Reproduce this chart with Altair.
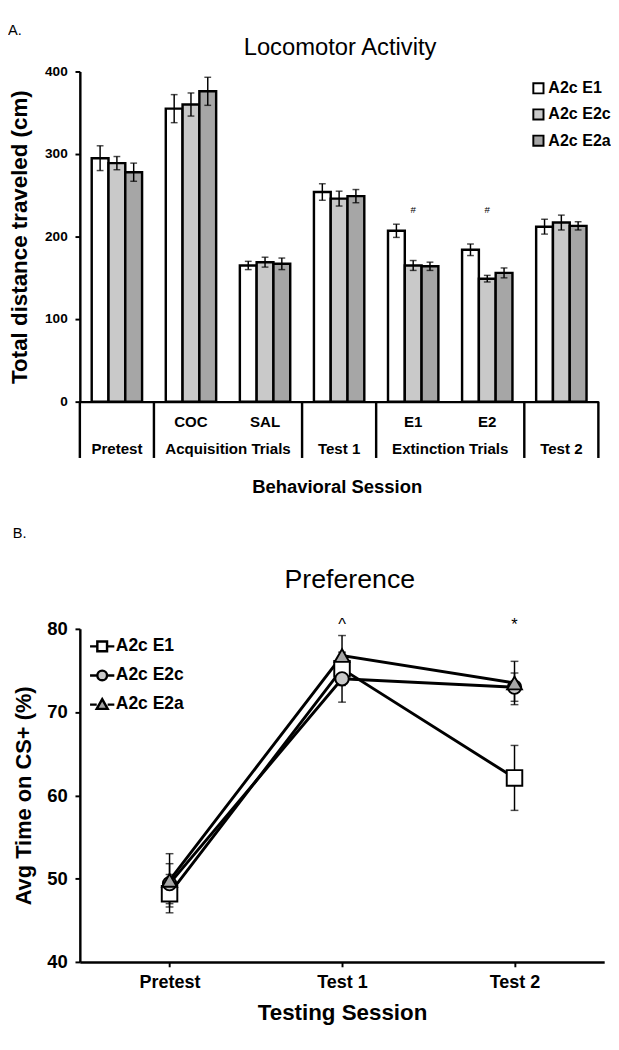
import altair as alt
import pandas as pd

FONT = "Liberation Sans"

# ---------------- Panel A data ----------------
sessions_a = ["Pretest", "COC", "SAL", "Test 1", "E1", "E2", "Test 2"]
groups_a = ["Pretest", "Acquisition Trials", "Test 1", "Extinction Trials", "Test 2"]
group_members = [["Pretest"], ["COC", "SAL"], ["Test 1"], ["E1", "E2"], ["Test 2"]]
sub_labels = ["COC", "SAL", "E1", "E2"]
series = ["A2c E1", "A2c E2c", "A2c E2a"]
e1_dist = [295, 355, 165, 254, 207, 184, 212]
e1_dist_sem = [15, 17, 5, 10, 8, 7, 9]
e2c_dist = [289, 360, 169, 246, 165, 149, 217]
e2c_dist_sem = [8, 14, 6, 9, 6, 4, 9]
e2a_dist = [278, 376, 167, 249, 164, 156, 213]
e2a_dist_sem = [11, 17, 7, 8, 5, 6, 5]
hash_sessions = ["E1", "E2"]
hash_level = 232

# ---------------- Panel B data ----------------
sessions_b = ["Pretest", "Test 1", "Test 2"]
e1_pref = [48.2, 75.2, 62.1]
e1_pref_sem = [2.3, 2.0, 3.9]
e2c_pref = [49.4, 74.0, 73.0]
e2c_pref_sem = [2.4, 2.8, 1.7]
e2a_pref = [49.8, 76.8, 73.5]
e2a_pref_sem = [3.2, 2.4, 2.6]
sig_sessions = ["Test 1", "Test 2"]
sig_marks = ["^", "*"]
sig_level = 80.4

fills = ["#ffffff", "#c9c9c9", "#a6a6a6"]
outline = ["#000000", "#000000", "#000000"]

# ---------------- tables ----------------
rows = []
for s, means, sems in zip(series, [e1_dist, e2c_dist, e2a_dist],
                          [e1_dist_sem, e2c_dist_sem, e2a_dist_sem]):
    for c, m, e in zip(sessions_a, means, sems):
        rows.append({"session": c, "series": s, "value": m, "lo": m - e, "hi": m + e})
dfA = pd.DataFrame(rows)

bounds = [0]
centers = []
for mem in group_members:
    start = bounds[-1]
    centers.append(start + len(mem) / 2)
    bounds.append(start + len(mem))
df_bounds = pd.DataFrame({"pos": bounds})
df_groups = pd.DataFrame({"pos": centers, "label": groups_a})
df_sub = pd.DataFrame({"session": sub_labels})
df_hash = pd.DataFrame({"session": hash_sessions,
                        "level": [hash_level] * len(hash_sessions),
                        "t": ["#"] * len(hash_sessions)})

rowsB = []
for s, means, sems in zip(series, [e1_pref, e2c_pref, e2a_pref],
                          [e1_pref_sem, e2c_pref_sem, e2a_pref_sem]):
    for c, m, e in zip(sessions_b, means, sems):
        rowsB.append({"session": c, "series": s, "mean": m, "lo": m - e, "hi": m + e})
dfB = pd.DataFrame(rowsB)
df_sig = pd.DataFrame({"session": sig_sessions, "level": [sig_level] * 2, "t": sig_marks})


def label(text, x, y, size, weight="normal", align="center"):
    return alt.Chart(pd.DataFrame({"t": [text]})).mark_text(
        font=FONT, fontSize=size, fontWeight=weight, align=align,
        baseline="middle", color="black").encode(
        x=alt.value(x), y=alt.value(y), text="t:N")


# ---------------- Panel A ----------------
WA, HA = 534, 340
xband = alt.X("session:N", sort=sessions_a,
              scale=alt.Scale(domain=sessions_a, paddingInner=0.32, paddingOuter=0.16),
              axis=None)
xoff = alt.XOffset("series:N", sort=series,
                   scale=alt.Scale(domain=series, paddingInner=0, paddingOuter=0))
yscaleA = alt.Scale(domain=[0, 400], nice=False, zero=True)
ytitleA = "Total distance traveled (cm)"
yaxisA = alt.Axis(values=[0, 100, 200, 300, 400], grid=False, domainColor="black",
                  domainWidth=2.5, tickColor="black", tickWidth=2, tickSize=5,
                  labelFont=FONT, labelFontSize=14, labelFontWeight="bold",
                  labelColor="black", labelPadding=8, titleFont=FONT, titleFontSize=23,
                  titleFontWeight="bold", titleColor="black", titleX=-62,
                  titleBaseline="middle")

legendA = alt.Legend(title=None, orient="none", legendX=464, legendY=9,
                     symbolType="square", symbolSize=110, symbolStrokeColor="black",
                     symbolStrokeWidth=2, symbolOpacity=1, labelFont=FONT,
                     labelFontSize=16.5, labelFontWeight="bold", labelColor="black",
                     rowPadding=8, labelOffset=2, padding=0)

baseA = alt.Chart(dfA)
bars = baseA.mark_bar(stroke="black", strokeWidth=2.5).encode(
    x=xband, xOffset=xoff,
    y=alt.Y("value:Q", scale=yscaleA, axis=yaxisA, title=ytitleA),
    fill=alt.Fill("series:N", scale=alt.Scale(domain=series, range=fills), legend=legendA),
)
err_rule = baseA.mark_rule(color="black", strokeWidth=1.5).encode(
    x=xband, xOffset=xoff,
    y=alt.Y("lo:Q", scale=yscaleA, axis=yaxisA, title=ytitleA), y2="hi:Q")
err_caps = baseA.transform_fold(["lo", "hi"], as_=["end", "ev"]).mark_tick(
    color="black", thickness=1.5, size=7).encode(
    x=xband, xOffset=xoff,
    y=alt.Y("ev:Q", scale=yscaleA, axis=yaxisA, title=ytitleA))
hash_text = alt.Chart(df_hash).mark_text(font=FONT, fontSize=10, color="black").encode(
    x=xband, y=alt.Y("level:Q", scale=yscaleA, axis=yaxisA, title=ytitleA), text="t:N")
sub_text = alt.Chart(df_sub).mark_text(font=FONT, fontSize=15.5, fontWeight="bold",
                                       color="black", baseline="middle").encode(
    x=xband, y=alt.value(HA + 21), text="session:N")

xq_scale = alt.Scale(domain=[0, len(sessions_a)], nice=False, zero=False)
separators = alt.Chart(df_bounds).mark_rule(color="black", strokeWidth=2.5).encode(
    x=alt.X("pos:Q", scale=xq_scale,
            axis=alt.Axis(labels=False, ticks=False, grid=False, domainColor="black",
                          domainWidth=2.5, title=None)),
    y=alt.value(HA), y2=alt.value(HA + 58))
group_text = alt.Chart(df_groups).mark_text(font=FONT, fontSize=15.5, fontWeight="bold",
                                            color="black", baseline="middle").encode(
    x=alt.X("pos:Q", scale=xq_scale, axis=None), y=alt.value(HA + 49), text="label:N")

panelA = alt.layer(
    bars, err_rule, err_caps, hash_text, sub_text, separators, group_text,
    label("A.", -74, -43, 15, align="left"),
    label("Locomotor Activity", WA / 2 + 1, -24, 24.5),
    label("Behavioral Session", WA / 2 - 2, HA + 88, 19, weight="bold"),
).resolve_scale(x="independent").properties(width=WA, height=HA)

# ---------------- Panel B ----------------
WB, HB = 540, 343
xB = alt.X("session:N", sort=sessions_b,
           scale=alt.Scale(type="point", domain=sessions_b, padding=0.52),
           axis=alt.Axis(title="Testing Session", labelAngle=0, domainColor="black",
                         domainWidth=2.5, tickColor="black", tickWidth=2, tickSize=5,
                         labelFont=FONT, labelFontSize=18.5, labelFontWeight="bold",
                         labelColor="black", labelPadding=6, titleFont=FONT,
                         titleFontSize=23, titleFontWeight="bold", titleColor="black",
                         titlePadding=12))
yscaleB = alt.Scale(domain=[40, 80], nice=False, zero=False)
ytitleB = "Avg Time on CS+ (%)"
yaxisB = alt.Axis(values=[40, 50, 60, 70, 80], grid=False, domainColor="black",
                  domainWidth=2.5, tickColor="black", tickWidth=2, tickSize=5,
                  labelFont=FONT, labelFontSize=19, labelFontWeight="bold",
                  labelColor="black", labelPadding=8, titleFont=FONT, titleFontSize=22.5,
                  titleFontWeight="bold", titleColor="black", titleX=-58,
                  titleBaseline="middle")

baseB = alt.Chart(dfB)
errB = baseB.mark_rule(color="black", strokeWidth=1.5).encode(
    x=xB, y=alt.Y("lo:Q", scale=yscaleB, axis=yaxisB, title=ytitleB), y2="hi:Q")
capsB = baseB.transform_fold(["lo", "hi"], as_=["end", "ev"]).mark_tick(
    color="black", thickness=1.5, size=8).encode(
    x=xB, y=alt.Y("ev:Q", scale=yscaleB, axis=yaxisB, title=ytitleB))
linesB = baseB.mark_line(color="black", strokeWidth=3).encode(
    x=xB, y=alt.Y("mean:Q", scale=yscaleB, axis=yaxisB, title=ytitleB),
    detail="series:N")
shapes = ["square", "circle", "triangle-up"]
sizes = [256, 190, 230]
pts = []
for s, shp, sz, f in zip(series, shapes, sizes, fills):
    pts.append(baseB.transform_filter(alt.datum.series == s).mark_point(
        shape=shp, size=sz, filled=True, fill=f, stroke="black", strokeWidth=2,
        opacity=1).encode(
        x=xB, y=alt.Y("mean:Q", scale=yscaleB, axis=yaxisB, title=ytitleB)))
sigB = alt.Chart(df_sig).mark_text(font=FONT, fontSize=17, color="black").encode(
    x=xB, y=alt.Y("level:Q", scale=yscaleB, axis=yaxisB, title=ytitleB), text="t:N")

leg_paths = [
    "M-1,0H-0.4M0.4,0H1M-0.4,-0.4H0.4V0.4H-0.4Z",
    "M-1,0H-0.4M0.4,0H1M-0.4,0A0.4,0.4 0 1,0 0.4,0A0.4,0.4 0 1,0 -0.4,0Z",
    "M-1,0H-0.45M0.45,0H1M0,-0.45L0.45,0.35H-0.45Z",
]
legendB = alt.Legend(title=None, orient="none", legendX=9, legendY=4,
                     symbolSize=625, symbolStrokeWidth=2.5,
                     symbolOpacity=1, labelFont=FONT, labelFontSize=18,
                     labelFontWeight="bold", labelColor="black", rowPadding=6,
                     labelOffset=0, padding=0)
legB = baseB.transform_filter("false").mark_point(
    filled=False, strokeWidth=2.5, size=625).encode(
    shape=alt.Shape("series:N", scale=alt.Scale(domain=series, range=leg_paths),
                    legend=legendB),
    fill=alt.Fill("series:N", scale=alt.Scale(domain=series, range=fills),
                  legend=legendB),
    stroke=alt.Stroke("series:N", scale=alt.Scale(domain=series, range=outline),
                      legend=legendB))

panelB = alt.layer(
    errB, capsB, linesB, *pts, sigB, legB,
    label("B.", -69, -99, 15, align="left"),
    label("Preference", WB / 2 + 8, -50, 27.5),
).properties(width=WB, height=HB)

chart = alt.vconcat(panelA, panelB, spacing=30).resolve_scale(
    fill="independent", shape="independent", stroke="independent").resolve_legend(
    fill="independent", shape="independent", stroke="independent").properties(
    padding=0).configure_view(stroke=None).configure_axis(labelFlush=False)

chart.save("out.html", embed_options={"renderer": "svg", "actions": False})
